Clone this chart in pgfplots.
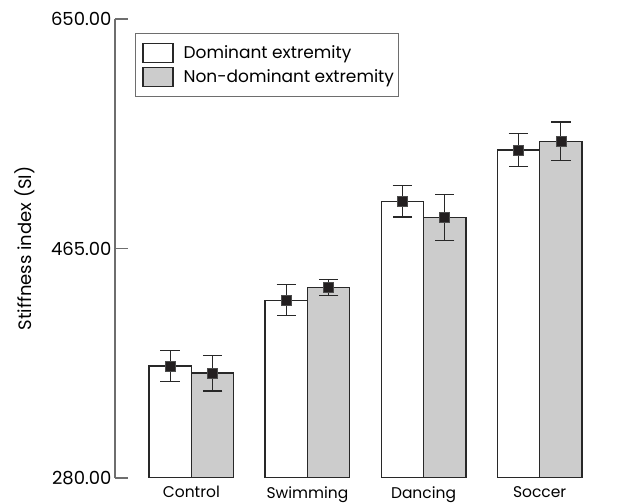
\documentclass[border=0pt]{standalone}
\usepackage{pgfplots}
\pgfplotsset{compat=1.18}
\usepackage{fontspec}
\setmainfont{Poppins}
\usetikzlibrary{calc}
\definecolor{barfill}{RGB}{204,204,204}
\definecolor{edge}{RGB}{40,40,40}
\definecolor{axisgray}{RGB}{110,110,110}
\definecolor{markfill}{RGB}{35,31,32}
\begin{document}
\begin{tikzpicture}
\begin{axis}[
  name=ax,
  scale only axis,
  width=501bp, height=459bp,
  xmin=-0.658, xmax=3.658,
  ymin=280, ymax=650,
  axis x line*=bottom, axis y line*=left,
  x axis line style={draw=none},
  y axis line style={draw=axisgray, line width=1.2bp, -},
  xtick style={draw=none},
  ytick style={draw=axisgray, line width=1.2bp},
  tick align=inside,
  major tick length=13bp,
  ytick={280,465,650},
  /pgf/number format/assume math mode=true,
  yticklabel={\pgfmathprintnumber[fixed,fixed zerofill,precision=2]{\tick}},
  yticklabel style={font=\fontsize{18bp}{21bp}\selectfont},
  xtick={0,1,2,3},
  xticklabels={Control,Swimming,Dancing,Soccer},
  xticklabel style={font=\fontsize{15.5bp}{19bp}\selectfont, yshift=-5bp},
  ylabel={Stiffness index (SI)},
  ylabel style={font=\fontsize{18bp}{21bp}\selectfont, at={(axis description cs:-0.18,0.5)}, anchor=center},
  legend style={at={(axis description cs:0.04,0.9695)}, anchor=north west, draw=axisgray, line width=0.8bp,
    font=\fontsize{17bp}{20bp}\selectfont, row sep=4bp, inner xsep=2bp, inner ysep=9.5bp},
  legend cell align=left,
  legend image code/.code={\path (-5bp,0) (38bp,0); \draw[#1, line width=1.2bp] (0bp,-9.5bp) rectangle (30bp,9.5bp);},
]
\addplot[ybar, bar width=0.365, bar shift=0pt, fill=white, draw=edge, line width=1.2bp]
  coordinates {(-0.1825,370.2) (0.8175,423.3) (1.8175,503.0) (2.8175,544.4)};
\addlegendentry{Dominant extremity}
\addplot[ybar, bar width=0.365, bar shift=0pt, fill=barfill, draw=edge, line width=1.2bp]
  coordinates {(0.1825,364.6) (1.1825,433.5) (2.1825,490.0) (3.1825,551.4)};
\addlegendentry{Non-dominant extremity}
\addplot[forget plot, only marks, mark=square*, mark size=5bp,
  mark options={fill=markfill, draw=gray!60!black, line width=0.5bp},
  error bars/.cd, y dir=both, y explicit, error mark=|,
  error bar style={draw=edge, line width=1.3bp},
  error mark options={draw=edge, line width=1.3bp, mark size=9.7bp}]
  coordinates {(-0.1825,370.2) +- (0,12.7) (0.8175,423.3) +- (0,12.5) (1.8175,503.0) +- (0,12.7) (2.8175,544.4) +- (0,13.3)};
\addplot[forget plot, only marks, mark=square*, mark size=5bp,
  mark options={fill=markfill, draw=gray!60!black, line width=0.5bp},
  error bars/.cd, y dir=both, y explicit, error mark=|,
  error bar style={draw=edge, line width=1.3bp},
  error mark options={draw=edge, line width=1.3bp, mark size=9.7bp}]
  coordinates {(0.1825,364.6) +- (0,14.4) (1.1825,433.5) +- (0,6.3) (2.1825,490.0) +- (0,18.3) (3.1825,551.4) +- (0,15.5)};
\end{axis}
\pgfresetboundingbox
\path[use as bounding box] ($(ax.south west)+(-115bp,-25bp)$) rectangle ($(ax.north east)+(2bp,19bp)$);
\end{tikzpicture}
\end{document}
